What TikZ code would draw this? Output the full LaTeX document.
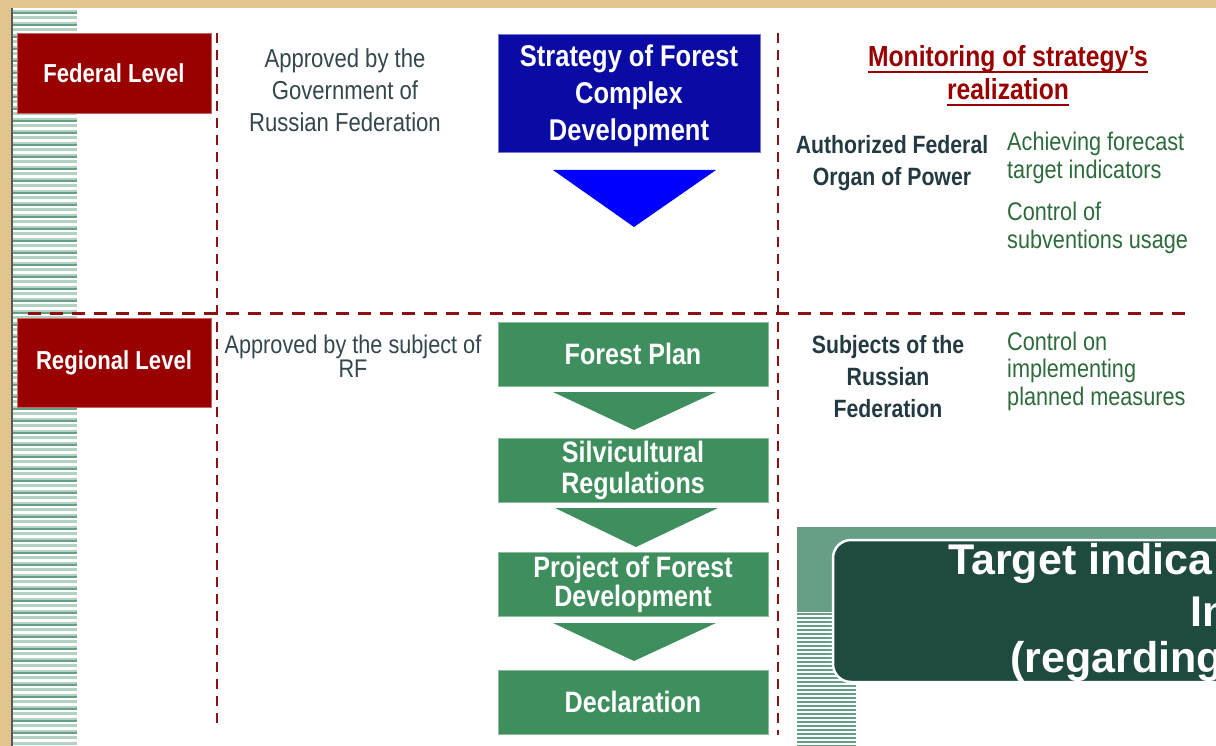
\documentclass[tikz,border=0pt]{standalone}
\usepackage{fontspec}
\setmainfont{Liberation Sans}[FakeStretch=0.85]
\newfontfamily\widefont{Liberation Sans}
\usetikzlibrary{positioning}

\definecolor{parchment}{HTML}{E2C58E}
\definecolor{levelred}{HTML}{990000}
\definecolor{dashred}{HTML}{8E1010}
\definecolor{stratblue}{HTML}{0A0AA5}
\definecolor{triblue}{HTML}{0000FF}
\definecolor{planGreen}{HTML}{3F8F5E}
\definecolor{slatetext}{HTML}{33474D}
\definecolor{darkslate}{HTML}{233A42}
\definecolor{ctrlgreen}{HTML}{2E6B3C}
\definecolor{stripelight}{HTML}{B3D2C1}
\definecolor{stripedark}{HTML}{669F85}
\definecolor{paneldark}{HTML}{1F4A40}

\begin{document}
\begin{tikzpicture}[x=1pt,y=-1pt,
    every node/.style={inner sep=0pt},
    levelbox/.style={fill=levelred, draw=levelred!60!white, line width=0.8,
      minimum width=194, text=white, font=\bfseries\fontsize{26}{30}\selectfont},
    stepbox/.style={fill=planGreen, draw=planGreen!60!white, line width=0.8,
      minimum width=270, minimum height=64, text=white, align=center,
      font=\bfseries\fontsize{29.5}{30}\selectfont},
    divider/.style={dashred, line width=2.5, dash pattern=on 10 off 7},
    note/.style={text=slatetext, align=center, font=\fontsize{26}{32}\selectfont},
    organ/.style={text=darkslate, align=center, font=\bfseries\fontsize{25}{32}\selectfont},
    ctrl/.style={text=ctrlgreen, align=left, anchor=west, font=\fontsize{25.5}{27.5}\selectfont},
    montitle/.style={text=levelred, anchor=base, font=\bfseries\fontsize{29}{33}\selectfont},
    target/.style={anchor=base west, text=white, font=\widefont\bfseries\fontsize{43}{43}\selectfont},
    steptri/.style={fill=planGreen}]
    \useasboundingbox (0,0) rectangle (1216,746);
    \clip (0,0) rectangle (1216,746);
    % background and page
    \fill [parchment] (0,0) rectangle (1216,746);
    \fill [white] (12,8) rectangle (1216,746);
    \draw [black!65, line width=2] (12,8) -- (12,746);
    \foreach \y in {10,16,...,742}
      \fill [stripelight] (13,\y) rectangle (77,\y+3);
    \foreach \y in {12,24,...,740}
      \fill [stripedark] (13,\y) rectangle (77,\y+2);
    % dividers
    \draw [divider] (217,33) -- (217,725);
    \draw [divider] (778,33) -- (778,735);
    \draw [divider, line width=3, dash pattern=on 13 off 9] (28,313) -- (1185,313);
    % levels
    \node (fed) [levelbox, minimum height=80] at (114,73) {Federal Level};
    \node (reg) [levelbox, minimum height=89] at (114,362.5) {Regional Level};
    % approvals
    \node (govt) [note] at (345,90) {Approved by the\\Government of\\Russian Federation};
    \node (subjrf) [note, font=\fontsize{25.5}{24}\selectfont] at (353,356) {Approved by the subject of\\RF};
    % federal strategy
    \node (strat) [fill=stratblue, draw=stratblue!55!white, line width=0.8,
      minimum width=262, minimum height=118] at (629,93) {};
    \node (strattext) [text=white, align=center, font=\bfseries\fontsize{30}{37}\selectfont]
      at ([yshift=-3]strat.center) {Strategy of Forest\\Complex\\Development};
    \fill [triblue] (553,170) -- (716,170) -- (634,227) -- cycle;
    % regional documents
    \node (plan) [stepbox] at (633,354) {Forest Plan};
    \node (silv) [stepbox, font=\bfseries\fontsize{29.5}{31}\selectfont] at (633,470) {Silvicultural\\Regulations};
    \node (proj) [stepbox, font=\bfseries\fontsize{29.5}{29}\selectfont] at (633,584) {Project of Forest\\Development};
    \node (decl) [stepbox] at (633,702) {Declaration};
    \fill [steptri] (553,392) -- (716,392) -- (634,430) -- cycle;
    \fill [steptri] (555,508) -- (718,508) -- (636,547) -- cycle;
    \fill [steptri] (553,623) -- (716,623) -- (634,661) -- cycle;
    % monitoring
    \node (mona) [montitle] at (1008,67) {Monitoring of strategy's};
    \node (monb) [montitle] at (1008,100) {realization};
    \draw [levelred, line width=2.5] ([yshift=-5]mona.base west) -- ([yshift=-5]mona.base east);
    \draw [levelred, line width=2.5] ([yshift=-5]monb.base west) -- ([yshift=-5]monb.base east);
    \node (auth) [organ] at (892,163) {Authorized Federal\\Organ of Power};
    \node (achv) [ctrl] at (1007,158) {Achieving forecast\\target indicators};
    \node (subv) [ctrl] at (1007,228) {Control of\\subventions usage};
    \node (subj) [organ] at (888,377) {Subjects of the\\Russian\\Federation};
    \node (plmeas) [ctrl] at (1007,371) {Control on\\implementing\\planned measures};
    % target indicators panel
    \fill [stripedark] (797,527) rectangle (1216,612);
    \foreach \y in {613,617,...,745}
      \fill [stripedark] (797,\y) rectangle (856,\y+2);
    \draw [white, line width=2.5, fill=paneldark, rounded corners=18] (833,540) rectangle (1270,682);
    \begin{scope}
      \clip [rounded corners=17] (834,541) rectangle (1270,681);
      \node (tgta) [target] at (948,574) {Target indica};
      \node (tgtb) [target] at (1190,626) {In};
      \node (tgtc) [target] at (1010,672) {(regarding};
    \end{scope}
\end{tikzpicture}
\end{document}
